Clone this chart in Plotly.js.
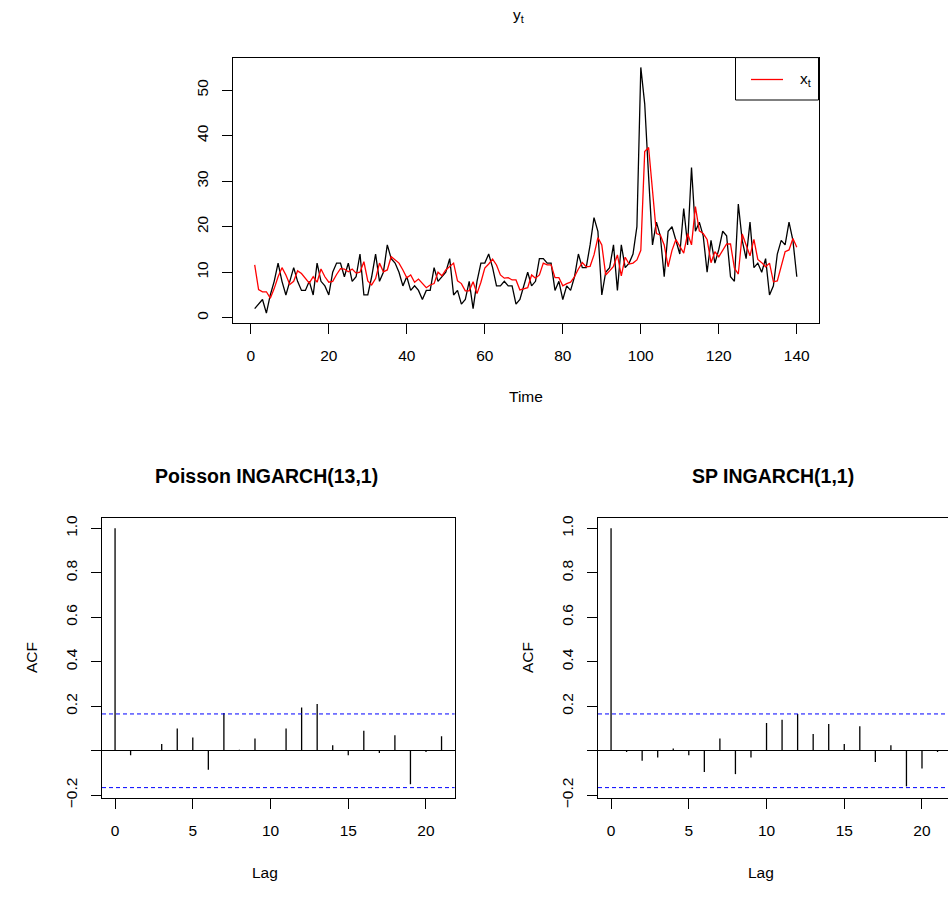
<!DOCTYPE html>
<html><head><meta charset="utf-8">
<script src="https://cdn.plot.ly/plotly-3.0.1.min.js"></script>
<style>html,body{margin:0;padding:0;overflow:hidden;background:#fff;width:948px;height:909px}</style>
</head><body><div id="chart" style="width:990px;height:909px"></div>
<script>
const yCounts = [2,3,4,1,5,8,12,8,5,8, 11,8,6,6,8,5,12,8,7,5, 10,12,12,9,12,8,9,14,5,5, 9,14,8,10,16,13,12,10,7,9,
  6,7,6,4,6,6,11,8,9,10, 13,5,6,3,4,8,2,8,12,12, 14,11,7,7,8,7,7,3,4,7, 10,7,8,13,13,12,12,6,8,4,
  7,6,9,14,11,11,16,22,19,5, 10,11,16,6,16,11,12,14,20,55, 47,31,16,21,18,9,19,20,17,14, 24,16,33,19,21,18,10,17,12,15,
  19,18,9,8,25,17,13,21,11,12, 10,13,5,7,14,17,16,21,17,9];
const xFitted = [11.6,6.2,5.7,5.7,4.3,6.4,9,11,9.4,7.3, 8,10.3,9.7,8.6,7.6,9.0,7.8,10.7,9,7.8, 8,9.5,10.8,10.7,10.1,10.7,9.8,10,12.3,8.1,
  7.2,8.6,12,10.1,10.5,13.4,12.7,12,10.5,8.8, 9.4,7.8,8.5,7.5,6.6,7.2,7.5,10,9.2,10.5, 11.2,12,8.1,7.5,5.9,5.9,7.9,5.3,7.8,10.9,
  11.8,12.9,11.6,9.4,8.7,8.8,8.3,8.3,6.1,6.3, 6.6,9.4,8.7,9.4,12,11.6,11.6,8.8,8.8,7, 7.5,7.8,9,10.7,12.1,11.2,11.3,13.8,17.6,16,
  9.4,10.3,11.3,13.8,9.2,13.3,11.8,12,12.7,14.8, 36.5,37.4,28,18.5,18.2,16,11.2,14.8,17.2,15.8, 14.2,18.5,16,24.4,19.1,18.5,17.2,12.1,14.5,13.4,
  14.9,16.2,16.2,10.9,9.6,18.4,16,13.6,17.2,12.8, 12.1,11.2,12,7.9,8.1,11.3,14.5,14.9,17.4,15.5];
const acfLags = [0,1,2,3,4,5,6,7,8,9,10,11,12,13,14,15,16,17,18,19,20,21];
const acfPoisson = [1,-0.02,0.0,0.03,0.10,0.06,-0.085,0.17,0.005,0.055,0.0,0.10,0.195,0.21,0.025,-0.02,0.09,-0.01,0.07,-0.15,-0.005,0.065];
const acfSP = [1,-0.005,-0.045,-0.03,0.01,-0.02,-0.095,0.055,-0.105,-0.03,0.125,0.14,0.165,0.075,0.12,0.03,0.11,-0.05,0.025,-0.16,-0.08,-0.005];
const topXTicks = [0,20,40,60,80,100,120,140];
const topYTicks = [0,10,20,30,40,50];
const acfXTicks = [0,5,10,15,20];
const acfYTicks = [-0.2,0,0.2,0.4,0.6,0.8,1.0];
const acfYText = ['\u22120.2','','0.2','0.4','0.6','0.8','1.0'];
const legendLabel = 'x<sub>t</sub>';
const nObs = yCounts.length;
const clim = 1.959964 / Math.sqrt(nObs);
const timeIndex = yCounts.map((_, i) => i + 1);

const W = 990, H = 909;
const fx = p => p / W, fy = p => 1 - p / H;
const FONT = 'Liberation Sans, Arial, sans-serif';
const fs = 15.5;

function stems(lags, vals) {
  const xs = [], ys = [];
  lags.forEach((l, i) => { xs.push(l, l, null); ys.push(0, vals[i], null); });
  return {x: xs, y: ys};
}
const sP = stems(acfLags, acfPoisson), sS = stems(acfLags, acfSP);

const traces = [
  {x: timeIndex, y: yCounts, type: 'scatter', mode: 'lines', line: {color: 'black', width: 1.3}, showlegend: false, xaxis: 'x', yaxis: 'y'},
  {x: timeIndex, y: xFitted, type: 'scatter', mode: 'lines', line: {color: '#ff0000', width: 1.3}, name: legendLabel, showlegend: false, xaxis: 'x', yaxis: 'y'},
  {x: sP.x, y: sP.y, type: 'scatter', mode: 'lines', line: {color: 'black', width: 1.3}, showlegend: false, xaxis: 'x2', yaxis: 'y2'},
  {x: sS.x, y: sS.y, type: 'scatter', mode: 'lines', line: {color: 'black', width: 1.3}, showlegend: false, xaxis: 'x3', yaxis: 'y3'}
];

const axBase = {showline: true, mirror: true, linecolor: 'black', linewidth: 1, ticks: 'outside', ticklen: 10, tickwidth: 1, tickcolor: 'black',
  showgrid: false, zeroline: false, tickfont: {family: FONT, size: fs, color: 'black'}, fixedrange: true, automargin: false};

const acfTop = 518, acfBot = 798;
const legShapes = [
  {type: 'rect', xref: 'paper', yref: 'paper', x0: fx(735.5), x1: fx(818.5), y0: fy(100), y1: fy(57.6), line: {color: 'black', width: 1}, fillcolor: 'white'},
  {type: 'line', xref: 'paper', yref: 'paper', x0: fx(751), x1: fx(783), y0: fy(79.5), y1: fy(79.5), line: {color: '#ff0000', width: 1.3}}
];
const layout = {
  width: W, height: H, margin: {l: 0, r: 0, t: 0, b: 0}, paper_bgcolor: 'white', plot_bgcolor: 'white', showlegend: false,
  font: {family: FONT, size: fs, color: 'black'},
  xaxis: Object.assign({}, axBase, {domain: [fx(233), fx(818.5)], anchor: 'y', range: [-4.56, 145.56], tickvals: topXTicks, ticklabelstandoff: 8}),
  yaxis: Object.assign({}, axBase, {domain: [fy(323), fy(57.6)], anchor: 'x', range: [-1.16, 57.16], tickvals: topYTicks, tickangle: -90, ticklabelstandoff: 8}),
  xaxis2: Object.assign({}, axBase, {domain: [fx(102), fx(454.6)], anchor: 'y2', range: [-0.84, 21.84], tickvals: acfXTicks, ticklabelstandoff: 8}),
  yaxis2: Object.assign({}, axBase, {domain: [fy(acfBot), fy(acfTop)], anchor: 'x2', range: [-0.2123, 1.0466], tickvals: acfYTicks, ticktext: acfYText, tickangle: -90, ticklabelstandoff: 8,
    zeroline: true, zerolinecolor: 'black', zerolinewidth: 1}),
  xaxis3: Object.assign({}, axBase, {domain: [fx(598), fx(950.6)], anchor: 'y3', range: [-0.84, 21.84], tickvals: acfXTicks, ticklabelstandoff: 8}),
  yaxis3: Object.assign({}, axBase, {domain: [fy(acfBot), fy(acfTop)], anchor: 'x3', range: [-0.2123, 1.0466], tickvals: acfYTicks, ticktext: acfYText, tickangle: -90, ticklabelstandoff: 8,
    zeroline: true, zerolinecolor: 'black', zerolinewidth: 1}),
  shapes: [
    ['x2', 'y2'], ['x3', 'y3']
  ].flatMap(([xa, ya]) => [clim, -clim].map(v => ({type: 'line', xref: xa + ' domain', yref: ya, x0: 0, x1: 1, y0: v, y1: v,
    line: {color: '#0000ff', width: 1, dash: '4px,3px'}}))).concat(legShapes),
  annotations: [
    {text: 'y<sub>t</sub>', x: fx(518), y: fy(16), font: {size: fs}},
    {text: 'Time', x: fx(526), y: fy(397), font: {size: fs}},
    {text: '<b>Poisson INGARCH(13,1)</b>', x: fx(266), y: fy(476), font: {size: 19.5}},
    {text: '<b>SP INGARCH(1,1)</b>', x: fx(773), y: fy(476), font: {size: 19.5}},
    {text: 'ACF', x: fx(31), y: fy(658), textangle: -90, font: {size: fs}},
    {text: 'ACF', x: fx(527), y: fy(658), textangle: -90, font: {size: fs}},
    {text: 'Lag', x: fx(265), y: fy(872), font: {size: fs}},
    {text: 'Lag', x: fx(761), y: fy(872), font: {size: fs}},
    {text: legendLabel, x: fx(805), y: fy(80), font: {size: fs}}
  ].map(a => Object.assign({xref: 'paper', yref: 'paper', showarrow: false, xanchor: 'center', yanchor: 'middle'}, a,
    {font: Object.assign({family: FONT, color: 'black'}, a.font)}))
};
Plotly.newPlot('chart', traces, layout, {staticPlot: true, displayModeBar: false});
</script></body></html>
